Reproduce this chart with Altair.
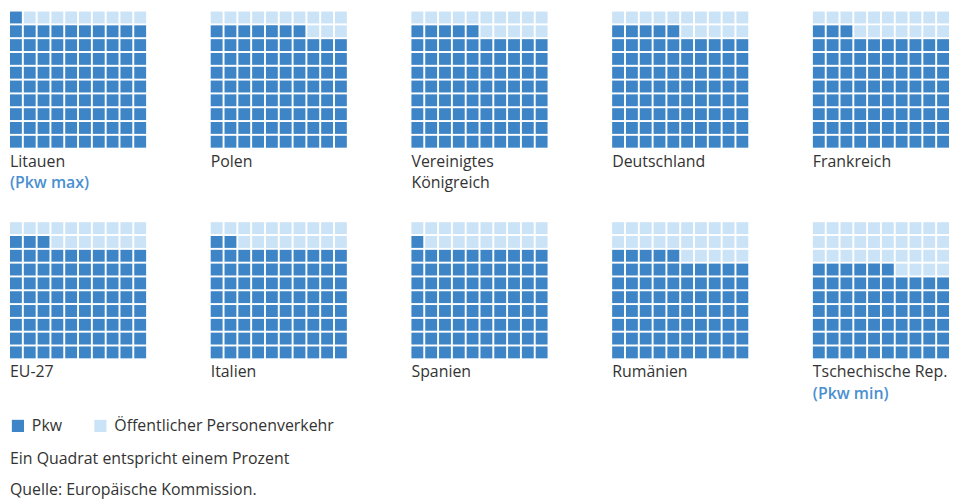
import altair as alt
import pandas as pd

countries = ["Litauen", "Polen", "Vereinigtes Königreich", "Deutschland", "Frankreich",
             "EU-27", "Italien", "Spanien", "Rumänien", "Tschechische Rep."]
labels = ["Litauen", "Polen", "Vereinigtes\nKönigreich", "Deutschland", "Frankreich",
          "EU-27", "Italien", "Spanien", "Rumänien", "Tschechische Rep."]
notes = ["(Pkw max)", "", "", "", "", "", "", "", "", "(Pkw min)"]
pkw = [91, 87, 85, 85, 83, 83, 82, 81, 75, 66]
categories = ["Pkw", "Öffentlicher Personenverkehr"]
colors = ["#3d85c6", "#cbe3f6"]
footer = ["Ein Quadrat entspricht einem Prozent", "Quelle: Europäische Kommission."]

FONT = "Open Sans"
TXT = "#333333"

rows = []
for c, lab, note, p in zip(countries, labels, notes, pkw):
    for i in range(100):
        rows.append(dict(country=c, label=lab, note=note, idx=i,
                         col=i % 10, row=9 - i // 10,
                         cat=categories[0] if i < p else categories[1]))
df = pd.DataFrame(rows)

squares = alt.Chart().mark_rect().encode(
    x=alt.X("col:O", scale=alt.Scale(paddingInner=0.14, paddingOuter=0), axis=None),
    y=alt.Y("row:O", scale=alt.Scale(paddingInner=0.14, paddingOuter=0), axis=None),
    color=alt.Color("cat:N", scale=alt.Scale(domain=categories, range=colors),
                    legend=alt.Legend(title=None, orient="bottom", direction="horizontal",
                                      symbolType="square", symbolSize=150,
                                      symbolStrokeWidth=0, labelFontSize=16,
                                      labelFont=FONT, labelColor=TXT, labelOffset=6,
                                      labelLimit=400, columnPadding=30, offset=16)),
)

names = alt.Chart().transform_filter("datum.idx == 0").mark_text(
    align="left", baseline="alphabetic", fontSize=16, font=FONT, color=TXT,
    lineBreak="\n", lineHeight=22,
).encode(x=alt.value(0), y=alt.value(156), text="label:N")

note_txt = alt.Chart().transform_filter("datum.idx == 0 && datum.note != ''").mark_text(
    align="left", baseline="alphabetic", fontSize=16, font=FONT, color="#4a90d0",
    fontWeight=600,
).encode(x=alt.value(0), y=alt.value(178), text="note:N")

panel = alt.layer(squares, names, note_txt).properties(width=137, height=137)

chart = panel.facet(
    facet=alt.Facet("country:N", sort=countries, title=None,
                    header=alt.Header(labelExpr="''", labelFontSize=0, labelPadding=0,
                                      titlePadding=0, title=None)),
    columns=5,
    spacing={"row": 75, "column": 65},
    bounds="flush",
    data=df,
).properties(
    padding={"left": 2, "top": 2, "right": 0, "bottom": 0},
    title=alt.TitleParams(text=footer, orient="bottom", anchor="start", fontSize=16,
                          fontWeight="normal", font=FONT, color=TXT, lineHeight=32,
                          offset=17),
).configure_view(stroke=None)

chart.save("out.html", embed_options={"renderer": "svg", "actions": False})
